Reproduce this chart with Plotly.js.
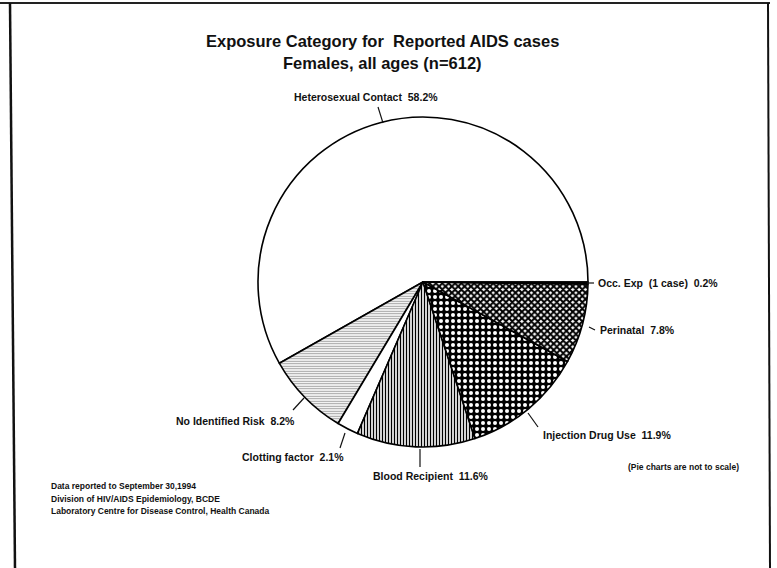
<!DOCTYPE html>
<html>
<head>
<meta charset="utf-8">
<script src="https://cdn.plot.ly/plotly-3.0.1.min.js"></script>
<style>html,body{margin:0;padding:0;background:#fff;}#chart{width:777px;height:568px;}</style>
</head>
<body>
<div id="chart"></div>
<script>
// ---- data ----
const categories = ["Heterosexual Contact", "No Identified Risk", "Clotting factor", "Blood Recipient", "Injection Drug Use", "Perinatal", "Occ. Exp  (1 case)"];
const percents = [58.2, 8.2, 2.1, 11.6, 11.9, 7.8, 0.2];
const titleLines = ["Exposure Category for  Reported AIDS cases", "Females, all ages (n=612)"];
const footerLines = ["Data reported to September 30,1994", "Division of HIV/AIDS Epidemiology, BCDE", "Laboratory Centre for Disease Control, Health Canada"];
const noteText = "(Pie charts are not to scale)";

// ---- styles ----
const W = 777, H = 568;
const px = x => x / W;
const py = y => 1 - y / H;
const patShapes = ["", "-", "", "|", ".", "x", ""];
const patFg = ["#000", "#999", "#000", "#000", "#fff", "#000", "#000"];
const patBg = ["#fff", "#f2f2f2", "#fff", "#fff", "#000", "#fff", "#000"];
const patSize = [6, 2.5, 6, 3, 6, 4.5, 6];
const patSolid = [0.3, 0.35, 0.3, 0.45, 0.35, 0.7, 0.3];

// label placement (pixel positions) and leader lines
const labelPos = [
  {x: 366, y: 97, xa: "center"},
  {x: 297, y: 421, xa: "right"},
  {x: 346, y: 457, xa: "right"},
  {x: 431, y: 476, xa: "center"},
  {x: 541, y: 435, xa: "left"},
  {x: 598, y: 330, xa: "left"},
  {x: 596, y: 283, xa: "left"}
];
const leaders = [
  [378, 107, 383, 123],
  [293, 410, 304, 398],
  [345, 433, 340, 448],
  [420, 449, 420, 467],
  [528, 413, 538, 427],
  [589, 327, 595, 330],
  [587, 283, 594, 283]
];

// first slice ends at 3 o'clock going counterclockwise (plotly places the first slice clockwise from 'rotation')
const total = percents.reduce((a, b) => a + b, 0);
const startRotation = 90 - 360 * percents[0] / total;

const trace = {
  type: "pie",
  labels: categories,
  values: percents,
  sort: false,
  direction: "counterclockwise",
  rotation: startRotation,
  textinfo: "none",
  hoverinfo: "label+value",
  showlegend: false,
  domain: {x: [px(258), px(588)], y: [py(447), py(117)]},
  marker: {
    colors: patBg,
    line: {color: "#000", width: 1.6},
    pattern: {shape: patShapes, fgcolor: patFg, bgcolor: patBg, size: patSize, solidity: patSolid, fillmode: "replace"}
  }
};

const annotations = [];
categories.forEach((c, i) => {
  const p = labelPos[i];
  annotations.push({
    xref: "paper", yref: "paper", x: px(p.x), y: py(p.y), xanchor: p.xa, yanchor: "middle",
    text: "<b>" + c + "  " + percents[i].toFixed(1) + "%</b>", showarrow: false,
    font: {family: "Liberation Sans, Arial, sans-serif", size: 10.5, color: "#111"}
  });
});
titleLines.forEach((t, i) => {
  annotations.push({
    xref: "paper", yref: "paper", x: px(382), y: py(41 + i * 22), xanchor: "center", yanchor: "middle",
    text: "<b>" + t + "</b>", showarrow: false,
    font: {family: "Liberation Sans, Arial, sans-serif", size: 16.5, color: "#111"}
  });
});
footerLines.forEach((t, i) => {
  annotations.push({
    xref: "paper", yref: "paper", x: px(49), y: py(486 + i * 12.5), xanchor: "left", yanchor: "middle",
    text: "<b>" + t + "</b>", showarrow: false,
    font: {family: "Liberation Sans, Arial, sans-serif", size: 8.5, color: "#111"}
  });
});
annotations.push({
  xref: "paper", yref: "paper", x: px(741), y: py(467), xanchor: "right", yanchor: "middle",
  text: "<b>" + noteText + "</b>", showarrow: false,
  font: {family: "Liberation Sans, Arial, sans-serif", size: 8.5, color: "#111"}
});

const shapes = leaders.map(l => ({
  type: "line", xref: "paper", yref: "paper",
  x0: px(l[0]), y0: py(l[1]), x1: px(l[2]), y1: py(l[3]),
  line: {color: "#111", width: 1.2}
}));
// frame
shapes.push({type: "line", xref: "paper", yref: "paper", x0: 0, y0: py(3), x1: px(770), y1: py(3), line: {color: "#222", width: 2}});
shapes.push({type: "line", xref: "paper", yref: "paper", x0: px(10), y0: py(3), x1: px(15), y1: py(568), line: {color: "#111", width: 2.5}});
shapes.push({type: "line", xref: "paper", yref: "paper", x0: px(768), y0: py(3), x1: px(770), y1: py(568), line: {color: "#111", width: 2}});

const layout = {
  width: W, height: H,
  margin: {l: 0, r: 0, t: 0, b: 0},
  paper_bgcolor: "#fff",
  showlegend: false,
  annotations: annotations,
  shapes: shapes
};

Plotly.newPlot("chart", [trace], layout, {displayModeBar: false, staticPlot: true});
</script>
</body>
</html>
